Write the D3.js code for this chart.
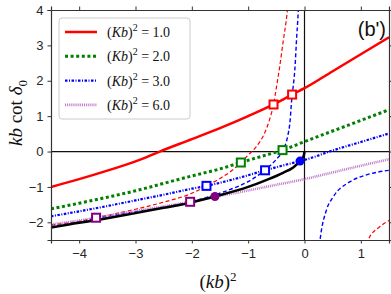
<!DOCTYPE html>
<html>
<head>
<meta charset="utf-8">
<script src="https://cdn.jsdelivr.net/npm/d3@7"></script>
<style>
  body { margin: 0; background: #fff; }
  svg { display: block; }
  .tick text { font-family: "Liberation Sans", Arial, sans-serif; font-size: 13px; fill: #262626; }
  .math { font-family: "Liberation Serif", "DejaVu Serif", serif; fill: #111; }
</style>
</head>
<body>
<svg id="chart"></svg>
<script>
// (Kb)^2 values for the legend
const kbLabels = ['1.0', '2.0', '3.0', '6.0']

// kb cot delta0 curves as [ (kb)^2 , value ]
const red1 = [[-4.5,-1.0],[-4,-0.78],[-3.5,-0.54],[-3,-0.28],[-2.57,0],[-2,0.35],[-1.5,0.66],[-1,1.0],
  [-0.55,1.33],[-0.22,1.61],[0,1.79],[0.5,2.27],[1,2.75],[1.5,3.23]]
const green2 = [[-4.5,-1.62],[-4,-1.46],[-3.5,-1.29],[-3,-1.11],[-2.5,-0.9],[-2,-0.69],[-1.5,-0.49],
  [-1.13,-0.31],[-0.75,-0.13],[-0.39,0.04],[0,0.28],[0.5,0.58],[1,0.88],[1.5,1.18]]
const blue3 = [[-4.5,-1.83],[-4,-1.69],[-3.5,-1.54],[-3,-1.38],[-2.5,-1.22],[-2,-1.05],[-1.74,-0.97],
  [-1.2,-0.76],[-0.7,-0.53],[-0.3,-0.36],[0,-0.24],[0.5,0.03],[1,0.27],[1.5,0.51]]
const purple6 = [[-4.5,-2.06],[-4,-1.95],[-3.7,-1.87],[-3,-1.68],[-2.5,-1.55],[-2.03,-1.42],[-1.59,-1.28],
  [-1,-1.1],[-0.5,-0.94],[0,-0.78],[0.5,-0.59],[1,-0.4],[1.5,-0.22]]
const boundLine = [[-4.5,-2.15],[-4,-2.01],[-3.7,-1.94],[-3,-1.74],[-2.5,-1.59],[-2.03,-1.45],[-1.59,-1.27],
  [-1,-1.0],[-0.67,-0.8],[-0.38,-0.6],[-0.2,-0.45],[-0.08,-0.27],[-0.03,-0.17],[-0.01,-0.1],[0,0]]

// thin dashed pole curves
const redPoleL = [[-4.5,-2.07],[-4,-1.97],[-3.7,-1.87],[-3,-1.63],[-2.5,-1.43],[-2,-1.18],[-1.74,-0.97],
  [-1.5,-0.76],[-1.3,-0.55],[-1.13,-0.31],[-1,-0.1],[-0.85,0.15],[-0.7,0.55],[-0.62,0.9],[-0.55,1.33],
  [-0.5,1.8],[-0.44,2.4],[-0.38,3.1],[-0.31,3.9],[-0.28,4.4]]
const redPoleR = [[1.06,-2.8],[1.13,-2.5],[1.34,-2.12],[1.5,-1.95]]
const bluePoleL = [[-4.5,-2.12],[-4,-1.99],[-3.5,-1.83],[-3,-1.7],[-2.5,-1.57],[-2.03,-1.42],[-1.7,-1.28],
  [-1.35,-1.09],[-1,-0.85],[-0.7,-0.52],[-0.5,-0.22],[-0.38,0.04],[-0.3,0.42],[-0.26,0.8],[-0.22,1.6],
  [-0.2,1.85],[-0.17,2.35],[-0.14,3.2],[-0.12,3.7],[-0.11,4.0],[-0.1,4.4]]
const bluePoleR = [[0.23,-3.2],[0.28,-2.45],[0.39,-1.65],[0.51,-1.28],[0.81,-0.85],[1.1,-0.66],[1.5,-0.53]]

// crossing markers
const squares = [
  {x:-0.55, y:1.33, c:'#ff0000'}, {x:-0.22, y:1.61, c:'#ff0000'},
  {x:-1.13, y:-0.31, c:'#008000'}, {x:-0.39, y:0.04, c:'#008000'},
  {x:-1.74, y:-0.97, c:'#0000ff'}, {x:-0.70, y:-0.53, c:'#0000ff'},
  {x:-3.70, y:-1.87, c:'#800080'}, {x:-2.03, y:-1.42, c:'#800080'}
]
const dots = [{x:-1.59, y:-1.27, c:'#800080'}, {x:-0.08, y:-0.27, c:'#0000ff'}]

const xTicks = [-4, -3, -2, -1, 0, 1]
const yTicks = [-2, -1, 0, 1, 2, 3, 4]

const W = 391, H = 294
const margin = {top: 10, right: 2, bottom: 54, left: 51}

const svg = d3.select('#chart').attr('width', W).attr('height', H)

const x = d3.scaleLinear().domain([-4.5, 1.5]).range([margin.left, W - margin.right])
const y = d3.scaleLinear().domain([-2.5, 4]).range([H - margin.bottom, margin.top])

svg.append('defs').append('clipPath').attr('id', 'plot')
  .append('rect')
    .attr('x', margin.left).attr('y', margin.top)
    .attr('width', x(1.5) - x(-4.5)).attr('height', y(-2.5) - y(4))

const plot = svg.append('g').attr('clip-path', 'url(#plot)')

// zero lines
plot.append('line').attr('x1', x(-4.5)).attr('x2', x(1.5)).attr('y1', y(0)).attr('y2', y(0))
  .attr('stroke', '#111').attr('stroke-width', 1.2)
plot.append('line').attr('x1', x(0)).attr('x2', x(0)).attr('y1', y(-2.5)).attr('y2', y(4))
  .attr('stroke', '#111').attr('stroke-width', 1.2)

const line = d3.line().x(d => x(d[0])).y(d => y(d[1])).curve(d3.curveMonotoneX)

const styles = [
  {data: redPoleL, stroke: '#ff0000', w: 1.2, dash: '4,2.5'},
  {data: redPoleR, stroke: '#ff0000', w: 1.2, dash: '4,2.5'},
  {data: bluePoleL, stroke: '#0000ff', w: 1.4, dash: '4,2.5'},
  {data: bluePoleR, stroke: '#0000ff', w: 1.4, dash: '4,2.5'},
  {data: purple6, stroke: '#c07ac8', w: 2.6, dash: '1,0.9'},
  {data: blue3, stroke: '#0000ff', w: 2.2, dash: '2.5,1.5,1,1.5'},
  {data: green2, stroke: '#008000', w: 3, dash: '3,2.6'},
  {data: red1, stroke: '#ff0000', w: 2.5, dash: null},
  {data: boundLine, stroke: '#000', w: 2.5, dash: null}
]

plot.selectAll('path.curve')
  .data(styles)
  .join('path')
    .attr('class', 'curve')
    .attr('d', d => line(d.data))
    .attr('fill', 'none')
    .attr('stroke', d => d.stroke)
    .attr('stroke-width', d => d.w)
    .attr('stroke-dasharray', d => d.dash)

plot.selectAll('rect.sq')
  .data(squares)
  .join('rect')
    .attr('class', 'sq')
    .attr('x', d => x(d.x) - 4).attr('y', d => y(d.y) - 4)
    .attr('width', 8).attr('height', 8)
    .attr('fill', '#fff').attr('stroke', d => d.c).attr('stroke-width', 2)

plot.selectAll('circle')
  .data(dots)
  .join('circle')
    .attr('cx', d => x(d.x)).attr('cy', d => y(d.y)).attr('r', 4.5)
    .attr('fill', d => d.c)

// axes, ticks outward on all four sides
const axisColor = '#333'
const fmt = d3.format('d')
const gx = svg.append('g').attr('transform', `translate(0,${y(-2.5)})`)
  .call(d3.axisBottom(x).tickValues(xTicks).tickFormat(fmt).tickSize(3.5).tickPadding(5))
const gxt = svg.append('g').attr('transform', `translate(0,${y(4)})`)
  .call(d3.axisTop(x).tickValues(xTicks).tickSize(3.5).tickFormat(''))
const gy = svg.append('g').attr('transform', `translate(${x(-4.5)},0)`)
  .call(d3.axisLeft(y).tickValues(yTicks).tickFormat(fmt).tickSize(3.5).tickPadding(4))
const gyr = svg.append('g').attr('transform', `translate(${x(1.5)},0)`)
  .call(d3.axisRight(y).tickValues(yTicks).tickSize(3.5).tickFormat(''))
;[gx, gxt, gy, gyr].forEach(g => {
  g.select('.domain').attr('stroke', axisColor).attr('stroke-width', 1.2)
  g.selectAll('.tick line').attr('stroke', axisColor)
})

// axis labels
svg.append('text').attr('class', 'math')
  .attr('x', 218).attr('y', 288).attr('text-anchor', 'middle').attr('font-size', 19)
  .html('(<tspan font-style="italic">kb</tspan>)<tspan dy="-7" font-size="13">2</tspan>')

svg.append('text').attr('class', 'math')
  .attr('transform', 'translate(22,113) rotate(-90)').attr('text-anchor', 'middle').attr('font-size', 19)
  .html('<tspan font-style="italic">kb</tspan> cot <tspan font-style="italic">δ</tspan><tspan dy="5" font-size="13">0</tspan>')

svg.append('text')
  .attr('x', 386).attr('y', 36).attr('text-anchor', 'end')
  .attr('font-family', '"Liberation Sans", Arial, sans-serif').attr('font-size', 20).attr('fill', '#111')
  .text("(b')")

// legend
const legend = svg.append('g')
legend.append('rect')
  .attr('x', 59).attr('y', 18).attr('width', 131).attr('height', 101).attr('rx', 3)
  .attr('fill', '#fff').attr('fill-opacity', 0.85).attr('stroke', '#ccc')

const legendStyles = [styles[7], styles[6], styles[5], styles[4]]
legendStyles.forEach((s, i) => {
  const ly = 32 + i * 24.3
  legend.append('line')
    .attr('x1', 65).attr('x2', 97).attr('y1', ly).attr('y2', ly)
    .attr('stroke', s.stroke).attr('stroke-width', s.w).attr('stroke-dasharray', s.dash)
  legend.append('text').attr('class', 'math')
    .attr('x', 107).attr('y', ly + 5).attr('font-size', 14)
    .html(`(<tspan font-style="italic">Kb</tspan>)<tspan dy="-6" font-size="10">2</tspan><tspan dy="6"> = ${kbLabels[i]}</tspan>`)
})
</script>
</body>
</html>
